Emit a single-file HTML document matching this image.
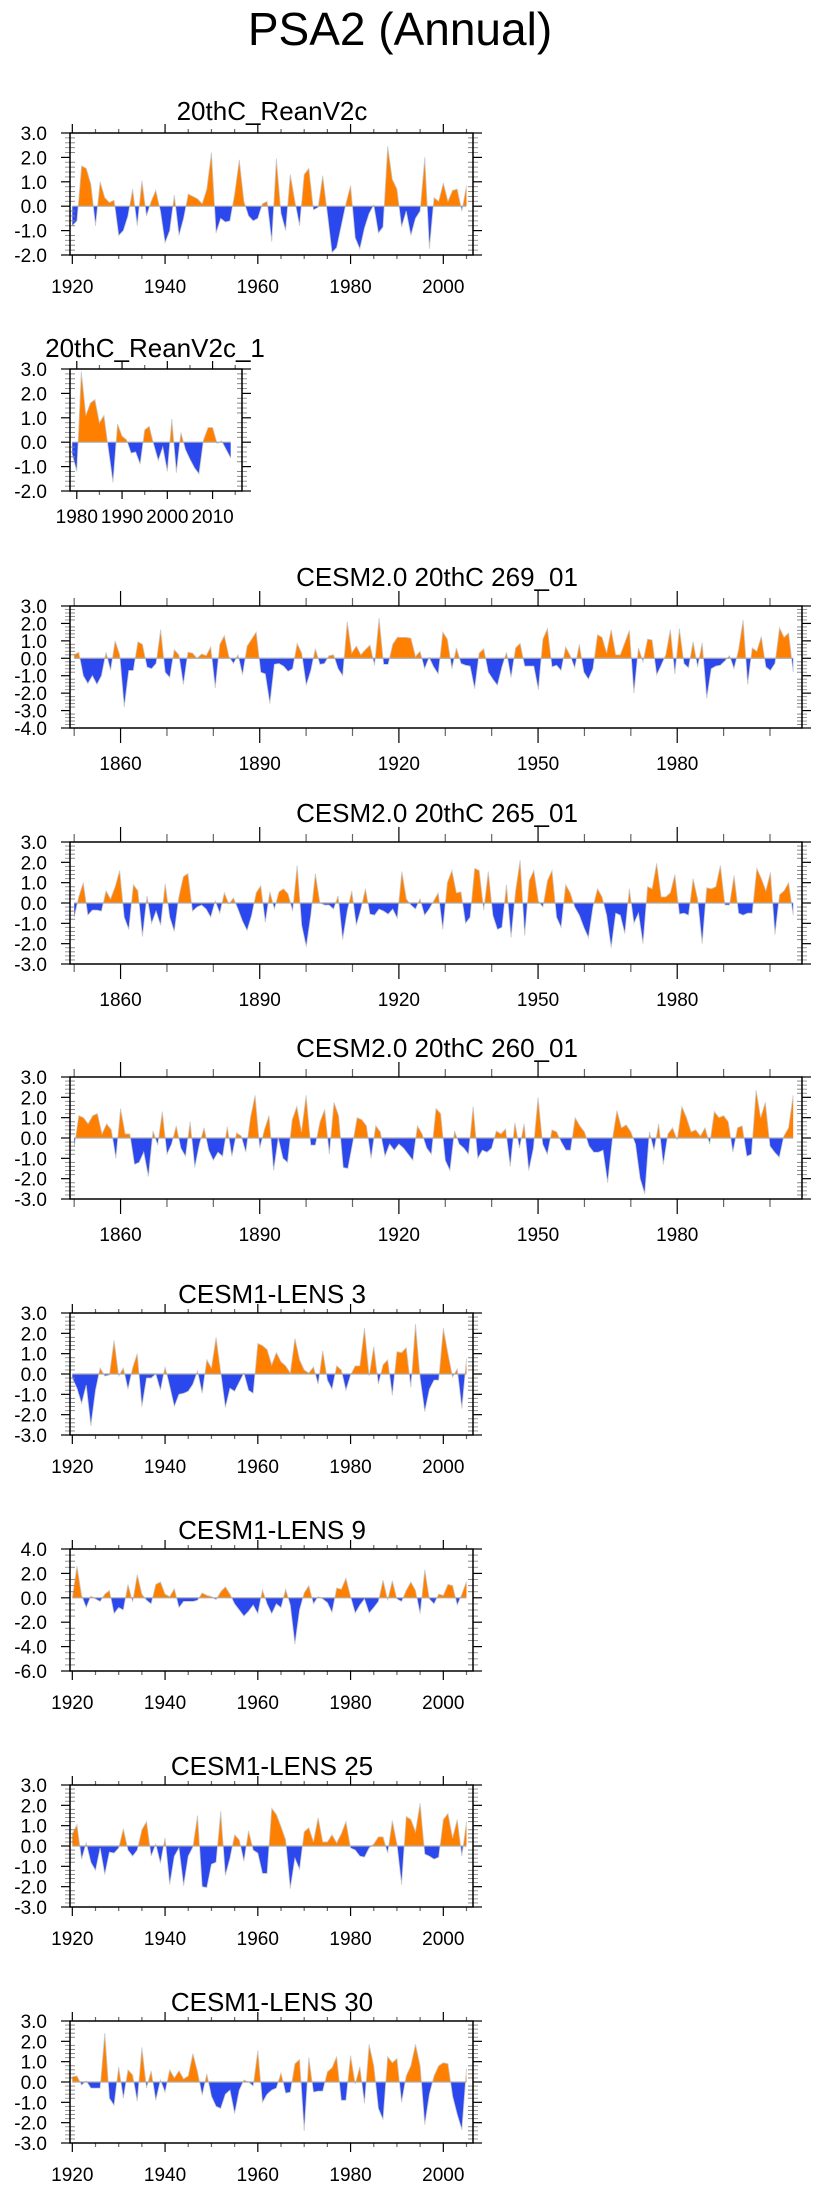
<!DOCTYPE html>
<html><head><meta charset="utf-8"><title>PSA2 (Annual)</title>
<style>
html,body{margin:0;padding:0;background:#fff;}
svg{display:block;font-family:"Liberation Sans",Arial,sans-serif;}
</style></head>
<body>
<svg id="chart" width="825" height="2190" viewBox="0 0 825 2190" xmlns="http://www.w3.org/2000/svg">
<text x="400" y="45" font-size="46" text-anchor="middle">PSA2 (Annual)</text>
</svg>
<script>
// ---- data arrays ----
const vals_reanv2c = [-0.8,-0.6,1.65,1.55,0.9,-0.8,1.0,0.35,0.15,0.25,-1.2,-1.0,-0.4,0.7,-0.8,1.05,-0.4,0.2,0.65,-0.2,-1.5,-1.0,0.45,-1.2,-0.5,0.5,0.4,0.3,0.1,0.7,2.2,-1.1,-0.5,-0.65,-0.6,0.5,1.9,0.2,-0.4,-0.6,-0.5,0.1,0.2,-1.45,1.95,-0.3,-1.0,1.3,0.2,-0.8,1.3,1.55,-0.15,-0.05,1.25,-0.3,-1.9,-1.7,-0.8,0.1,0.85,-1.3,-1.75,-0.9,-0.3,0.05,-1.1,-0.85,2.45,1.1,0.7,-0.85,-0.2,-1.2,-0.5,-0.2,2.0,-1.75,0.35,0.2,0.95,0.2,0.65,0.7,-0.2,0.85];
const vals_reanv2c_1 = [-0.5,-1.2,2.9,1.1,1.6,1.75,0.8,1.1,-0.3,-1.65,0.75,0.25,0.1,-0.45,-0.4,-0.9,0.5,0.65,-0.1,-0.75,-0.2,-1.2,0.95,-1.25,0.4,-0.3,-0.7,-1.05,-1.3,0.1,0.6,0.6,-0.05,0.05,-0.3,-0.65];
const vals_269 = [0.2,0.35,-1.0,-1.45,-1.0,-1.5,-1.0,0.35,-0.7,1.0,0.2,-2.8,-0.7,-0.7,0.95,0.8,-0.5,-0.6,-0.3,1.65,-0.8,-1.1,0.5,0.2,-1.5,0.35,0.3,0.0,0.25,0.15,0.65,-1.7,0.8,1.3,0.1,-0.3,0.2,-0.95,0.7,1.1,1.5,-0.8,-0.9,-2.6,-0.35,-0.3,-0.45,-0.75,-0.6,0.85,0.3,-1.55,-0.7,0.55,-0.35,-0.3,0.15,0.2,-0.6,-1.0,2.1,0.3,0.7,0.2,0.5,0.75,-0.4,2.3,-0.35,-0.35,0.8,1.2,1.2,1.2,1.15,0.1,0.4,-0.6,0.05,-0.5,-0.9,1.5,1.1,-0.6,0.6,-0.3,-0.4,-0.45,-1.75,0.3,0.55,-0.8,-1.2,-1.55,-0.5,0.35,-1.1,0.6,0.85,-0.45,-0.45,-0.45,-1.8,1.1,1.7,-0.5,-0.4,-0.7,0.65,0.15,-0.55,0.8,-0.8,-1.2,-0.6,1.35,1.2,0.3,1.65,0.2,0.2,0.9,1.6,-2.0,0.6,-0.2,1.1,1.05,-0.95,-0.4,0.2,1.65,-0.9,1.7,-0.3,-0.55,0.95,-0.5,0.9,-2.3,-0.6,-0.45,-0.4,-0.15,0.15,-0.6,0.5,2.2,-1.5,0.6,0.4,1.25,-0.5,-0.7,-0.3,1.75,1.2,1.45,-0.8];
const vals_265 = [-0.7,0.3,1.0,-0.6,-0.35,-0.35,-0.4,0.6,0.2,0.8,1.6,-0.7,-1.3,0.9,0.6,-1.65,0.35,-1.0,-0.4,-1.1,0.95,-0.7,-1.4,0.3,1.3,1.45,-0.4,-0.2,-0.1,-0.3,-0.7,0.1,-0.5,0.5,-0.05,0.25,-0.3,-0.9,-1.35,-0.6,0.5,0.85,-0.95,0.55,-0.3,0.55,0.7,0.45,-0.4,1.85,-1.1,-2.15,-0.6,1.45,0.0,-0.1,-0.1,-0.3,0.35,-1.8,-0.4,0.6,-1.1,-0.3,0.7,-0.55,-0.6,-0.3,-0.4,-0.55,-0.3,-0.75,1.55,0.2,-0.1,-0.3,0.2,-0.6,-0.3,0.1,0.5,-1.3,1.0,1.6,0.5,0.55,-1.0,-0.7,1.7,1.6,-0.35,1.55,-0.6,-1.3,-1.2,0.9,-1.7,0.6,2.1,-1.6,1.1,1.6,0.1,-0.2,1.1,1.6,-0.7,-1.2,0.9,0.5,-0.2,-0.6,-1.2,-1.7,-0.2,0.7,0.3,-0.6,-2.2,-0.5,-0.6,-1.5,0.7,-1.0,-0.5,-2.0,0.8,0.7,1.95,0.3,0.3,0.5,1.4,-0.55,-0.5,-0.6,1.2,0.2,-2.0,0.75,0.7,0.8,1.85,-0.1,-0.1,1.35,-0.5,-0.6,-0.5,-0.5,1.7,1.2,0.6,1.5,-1.55,0.4,0.6,1.0,-0.6];
const vals_260 = [-0.45,1.1,1.0,0.7,1.1,1.2,0.2,0.7,0.4,-1.0,1.45,0.2,0.2,-1.3,-1.2,-0.7,-1.9,0.35,-0.35,1.3,-0.8,-0.3,0.6,-0.5,-0.9,0.8,-1.45,-0.3,0.5,-0.6,-1.1,-0.7,-0.9,0.55,-0.9,0.25,0.1,-0.7,1.0,2.1,-0.5,0.4,1.1,-1.6,0.0,-1.0,-1.2,0.9,1.55,0.3,2.1,-0.35,-0.35,0.8,1.4,-0.8,1.75,1.1,-1.45,-1.5,-0.3,1.0,0.9,0.6,-1.0,0.6,0.3,-0.9,-0.3,-0.6,-0.3,-0.5,-0.8,-1.1,0.6,0.2,-0.5,-0.8,1.45,1.2,-1.1,-1.6,0.35,-0.3,-0.5,-0.8,1.55,-1.0,-0.6,-0.7,-0.5,0.35,0.2,0.45,-1.4,0.75,-0.5,0.7,-1.6,-0.5,2.0,-0.3,-0.8,0.4,0.3,-0.2,-0.6,-0.6,1.0,0.6,0.3,-0.4,-0.7,-0.7,-0.6,-2.2,-0.1,1.35,0.5,0.65,0.3,-0.3,-2.0,-2.75,0.3,-0.6,0.7,-1.3,0.2,0.5,-0.1,1.55,1.0,0.3,0.4,0.1,0.5,-0.3,1.3,1.0,1.1,0.8,-0.7,0.5,0.6,-0.9,-0.8,2.35,1.0,1.75,-0.4,-0.7,-0.95,0.1,0.5,2.1];
const vals_lens3 = [-0.2,-0.7,-1.45,-0.55,-2.55,-0.8,0.3,-0.1,-0.05,1.65,-0.1,0.3,-0.75,0.3,1.0,-1.6,-0.2,-0.2,0.0,-0.8,0.35,-0.6,-1.6,-1.0,-0.95,-0.85,-0.5,0.15,-0.95,0.7,0.3,1.8,0.1,-1.65,-0.7,-0.85,-0.4,0.05,-0.8,-0.95,1.5,1.4,1.2,0.45,1.05,0.6,0.4,0.05,1.75,0.7,0.2,0.05,0.35,-0.5,1.15,-0.3,-0.75,0.4,0.2,-0.8,-0.05,0.4,0.4,2.25,-0.1,1.35,-0.5,0.45,0.7,-1.05,1.1,1.05,1.3,-0.65,2.45,-0.2,-1.85,-0.75,-0.3,-0.3,2.25,1.0,-0.15,0.25,-1.7,0.75];
const vals_lens9 = [0.0,2.6,0.2,-0.8,0.15,-0.1,-0.3,0.3,0.6,-1.3,-0.8,-1.0,1.1,-0.35,1.9,0.3,-0.2,-0.5,1.1,1.3,0.3,0.1,0.75,-0.8,-0.3,-0.3,-0.3,-0.2,0.4,0.2,0.1,-0.15,0.5,0.9,0.3,-0.5,-1.0,-1.5,-1.1,-0.6,-1.3,0.65,-0.5,-1.3,-0.5,-0.8,0.7,-0.6,-3.8,-1.0,0.4,1.0,-0.5,0.1,-0.1,-0.4,-1.2,0.8,0.7,1.6,0.1,-1.25,-0.6,-0.1,-1.25,-0.8,-0.3,1.45,-0.2,1.4,-0.1,-0.3,0.6,1.3,0.6,-1.3,2.3,-0.1,-0.5,0.3,0.2,1.1,1.0,-0.6,0.3,1.35];
const vals_lens25 = [0.6,1.05,-0.65,0.15,-0.8,-1.2,-0.1,-1.4,-0.3,-0.35,-0.1,0.85,-0.2,-0.5,-0.2,0.8,1.2,-0.5,0.1,-0.85,0.4,-1.9,-0.5,-0.1,-1.95,-0.5,-0.05,1.5,-2.0,-2.05,-0.9,-0.8,1.7,-1.45,-0.6,0.55,0.3,-0.75,0.75,-0.2,-0.35,-1.35,-1.35,1.85,1.55,0.95,0.3,-2.1,-0.6,-1.15,0.7,0.9,0.2,1.4,0.2,0.2,0.55,0.15,0.6,1.2,-0.1,-0.2,-0.5,-0.55,-0.1,0.1,0.45,0.45,-0.35,1.25,0.1,-1.9,1.45,1.3,0.7,2.1,-0.4,-0.5,-0.65,-0.55,1.3,1.6,0.4,1.3,-0.5,1.2];
const vals_lens30 = [0.25,0.3,-0.15,0.05,-0.3,-0.3,-0.3,2.4,-0.8,-1.15,0.75,-0.8,0.6,0.35,-0.95,1.7,-0.3,0.55,-0.9,0.1,-0.5,0.6,0.2,0.55,0.15,0.3,1.4,0.5,-0.65,0.4,-0.7,-1.2,-1.3,-0.6,-0.4,-1.55,-0.4,0.1,0.0,-0.2,1.55,-1.0,-0.6,-0.4,-0.3,0.45,-0.55,-0.5,0.9,1.1,-2.4,1.2,-0.5,-0.45,-0.45,0.5,0.7,1.25,-0.9,-0.9,1.3,-0.1,0.75,-1.05,1.85,0.8,-1.3,-1.85,1.25,0.95,1.15,-1.0,0.3,0.8,1.85,0.8,-2.1,-0.6,0.3,0.8,0.95,0.9,-0.7,-1.6,-2.35,0.65];

// tick label arrays
const yTicks3to2 = [3,2,1,0,-1,-2];
const yTicks3to4 = [3,2,1,0,-1,-2,-3,-4];
const yTicks3to3 = [3,2,1,0,-1,-2,-3];
const yTicks4to6 = [4,2,0,-2,-4,-6];
const xTicks1920 = [1920,1940,1960,1980,2000];
const xTicks1980 = [1980,1990,2000,2010];
const xTicks1860 = [1860,1890,1920,1950,1980];

const SVGNS = "http://www.w3.org/2000/svg";
const svg = document.getElementById('chart');
function mk(tag, attrs, parent){
  const e = document.createElementNS(SVGNS, tag);
  for (const k in attrs) e.setAttribute(k, attrs[k]);
  (parent || svg).appendChild(e);
  return e;
}

const panels = [
  {key:'reanv2c', title:'20thC_ReanV2c', top:133, x0:70, x1:473, xmin:1919.5, xmax:2006.4, d0:1920, d1:2005, ymin:-2, ymax:3, yt:yTicks3to2, minorY:5, vals:vals_reanv2c, xt:xTicks1920, xMajorStep:20, xMinorStep:5, majLen:9, minLen:4, tx:272, tdy:-13, lblDy:38},
  {key:'reanv2c-1', title:'20thC_ReanV2c_1', top:369, x0:70, x1:242, xmin:1978.5, xmax:2016.5, d0:1979, d1:2014, ymin:-2, ymax:3, yt:yTicks3to2, minorY:5, vals:vals_reanv2c_1, xt:xTicks1980, xMajorStep:10, xMinorStep:5, majLen:8, minLen:4, tx:155, tdy:-12, lblDy:32},
  {key:'cesm2-269', title:'CESM2.0 20thC 269_01', top:606, x0:70, x1:802, xmin:1849.1, xmax:2006.9, d0:1850, d1:2005, ymin:-4, ymax:3, yt:yTicks3to4, minorY:5, vals:vals_269, xt:xTicks1860, xMajorStep:30, xMinorStep:10, majLen:15, minLen:8, tx:437, tdy:-20, lblDy:42},
  {key:'cesm2-265', title:'CESM2.0 20thC 265_01', top:842, x0:70, x1:802, xmin:1849.1, xmax:2006.9, d0:1850, d1:2005, ymin:-3, ymax:3, yt:yTicks3to3, minorY:5, vals:vals_265, xt:xTicks1860, xMajorStep:30, xMinorStep:10, majLen:15, minLen:8, tx:437, tdy:-20, lblDy:42},
  {key:'cesm2-260', title:'CESM2.0 20thC 260_01', top:1077, x0:70, x1:802, xmin:1849.1, xmax:2006.9, d0:1850, d1:2005, ymin:-3, ymax:3, yt:yTicks3to3, minorY:5, vals:vals_260, xt:xTicks1860, xMajorStep:30, xMinorStep:10, majLen:15, minLen:8, tx:437, tdy:-20, lblDy:42},
  {key:'lens-3', title:'CESM1-LENS 3', top:1313, x0:70, x1:473, xmin:1919.5, xmax:2006.4, d0:1920, d1:2005, ymin:-3, ymax:3, yt:yTicks3to3, minorY:5, vals:vals_lens3, xt:xTicks1920, xMajorStep:20, xMinorStep:5, majLen:9, minLen:4, tx:272, tdy:-10, lblDy:38},
  {key:'lens-9', title:'CESM1-LENS 9', top:1549, x0:70, x1:473, xmin:1919.5, xmax:2006.4, d0:1920, d1:2005, ymin:-6, ymax:4, yt:yTicks4to6, minorY:4, vals:vals_lens9, xt:xTicks1920, xMajorStep:20, xMinorStep:5, majLen:9, minLen:4, tx:272, tdy:-10, lblDy:38},
  {key:'lens-25', title:'CESM1-LENS 25', top:1785, x0:70, x1:473, xmin:1919.5, xmax:2006.4, d0:1920, d1:2005, ymin:-3, ymax:3, yt:yTicks3to3, minorY:5, vals:vals_lens25, xt:xTicks1920, xMajorStep:20, xMinorStep:5, majLen:9, minLen:4, tx:272, tdy:-10, lblDy:38},
  {key:'lens-30', title:'CESM1-LENS 30', top:2021, x0:70, x1:473, xmin:1919.5, xmax:2006.4, d0:1920, d1:2005, ymin:-3, ymax:3, yt:yTicks3to3, minorY:5, vals:vals_lens30, xt:xTicks1920, xMajorStep:20, xMinorStep:5, majLen:9, minLen:4, tx:272, tdy:-10, lblDy:38}
];
const PH = 122;

panels.forEach(function(p, pi){
  const g = mk('g', {});
  
  
  const top = p.top, bot = p.top + PH;
  const xs = function(yr){ return p.x0 + (yr - p.xmin) / (p.xmax - p.xmin) * (p.x1 - p.x0); };
  const ys = function(v){ return top + (p.ymax - v) / (p.ymax - p.ymin) * PH; };

  // title
  const t = mk('text', {x:p.tx, y:top + p.tdy, 'font-size':26, 'text-anchor':'middle'}, g);
  
  
  t.textContent = p.title;

  // data series
  const n = p.vals.length;
  const step = (p.d1 - p.d0) / (n - 1);
  const pts = p.vals.map(function(v, i){ return [xs(p.d0 + i * step), ys(v)]; });
  const y0 = ys(0);
  const lineStr = pts.map(function(q){ return q[0].toFixed(2) + ',' + q[1].toFixed(2); }).join(' ');
  const polyStr = pts[0][0].toFixed(2) + ',' + y0 + ' ' + lineStr + ' ' + pts[n-1][0].toFixed(2) + ',' + y0;

  const cidA = 'clipA' + pi, cidB = 'clipB' + pi;
  const defs = mk('defs', {}, g);
  const cpA = mk('clipPath', {id:cidA}, defs);
  mk('rect', {x:p.x0, y:top, width:p.x1 - p.x0, height:y0 - top}, cpA);
  const cpB = mk('clipPath', {id:cidB}, defs);
  mk('rect', {x:p.x0, y:y0, width:p.x1 - p.x0, height:bot - y0}, cpB);

  const pos = mk('polygon', {points:polyStr, fill:'#ff8000', 'clip-path':'url(#' + cidA + ')'}, g);
  
  
  const neg = mk('polygon', {points:polyStr, fill:'#2a48ee', 'clip-path':'url(#' + cidB + ')'}, g);
  
  
  const ln = mk('polyline', {points:lineStr, fill:'none', stroke:'#c8c8c8', 'stroke-width':0.8}, g);
  
  
  const zl = mk('line', {x1:pts[0][0], x2:pts[n-1][0], y1:y0, y2:y0, stroke:'#aaaaaa', 'stroke-width':1.2}, g);
  
  

  // y axis ticks and labels
  const yax = mk('g', {}, g);
  
  
  const yStepMaj = p.yt[0] - p.yt[1];
  p.yt.forEach(function(v, i){
    const yy = ys(v);
    mk('line', {x1:p.x0 - 9, x2:p.x0, y1:yy, y2:yy, stroke:'#000', 'stroke-width':1.2}, yax);
    mk('line', {x1:p.x1, x2:p.x1 + 9, y1:yy, y2:yy, stroke:'#000', 'stroke-width':1.2}, yax);
    const lb = mk('text', {x:47, y:yy + 7, 'font-size':19, 'text-anchor':'end'}, yax);
    
    
    lb.textContent = v.toFixed(1);
    if (i < p.yt.length - 1) {
      for (let k = 1; k < p.minorY; k++) {
        const ym = ys(v - k * yStepMaj / p.minorY);
        mk('line', {x1:p.x0, x2:p.x0 + 5, y1:ym, y2:ym, stroke:'#888', 'stroke-width':1}, yax);
        mk('line', {x1:p.x1 - 5, x2:p.x1, y1:ym, y2:ym, stroke:'#888', 'stroke-width':1}, yax);
        mk('line', {x1:p.x1, x2:p.x1 + 5, y1:ym, y2:ym, stroke:'#999', 'stroke-width':1}, yax);
        mk('line', {x1:p.x0 - 5, x2:p.x0, y1:ym, y2:ym, stroke:'#999', 'stroke-width':1}, yax);
      }
    }
  });

  // x axis ticks and labels
  const xax = mk('g', {}, g);
  
  
  const firstMinor = Math.ceil(p.xmin / p.xMinorStep) * p.xMinorStep;
  for (let yr = firstMinor; yr <= p.xmax; yr += p.xMinorStep) {
    const xx = xs(yr);
    const isMaj = ((yr - p.xt[0]) % p.xMajorStep) === 0;
    const L = isMaj ? p.majLen : p.minLen;
    const c = isMaj ? '#000' : '#666';
    mk('line', {x1:xx, x2:xx, y1:top - L, y2:top, stroke:c, 'stroke-width':1.2}, xax);
    mk('line', {x1:xx, x2:xx, y1:bot, y2:bot + L, stroke:c, 'stroke-width':1.2}, xax);
  }
  p.xt.forEach(function(yr){
    const lb = mk('text', {x:xs(yr), y:bot + p.lblDy, 'font-size':19, 'text-anchor':'middle'}, xax);
    
    
    lb.textContent = String(yr);
  });

  // frame
  const fr = mk('rect', {x:p.x0, y:top, width:p.x1 - p.x0, height:PH, fill:'none', stroke:'#000', 'stroke-width':1.5}, g);
  
  
});
</script>
</body></html>
